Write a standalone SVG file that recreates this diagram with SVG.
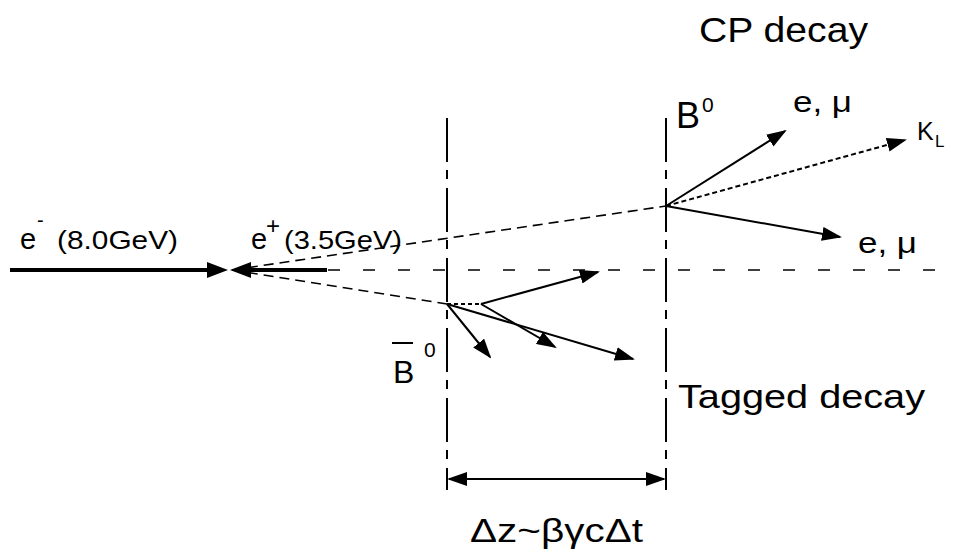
<svg xmlns="http://www.w3.org/2000/svg" width="958" height="557" viewBox="0 0 958 557">
<style>
text{font-family:"Liberation Sans",Arial,sans-serif;fill:#000}
.thin{stroke:#000;stroke-width:2;fill:none}
.arr{marker-end:url(#ah)}
.dot{stroke-dasharray:5 3}
.dash{stroke:#000;stroke-width:1.6;fill:none;stroke-dasharray:10 6}
.vline{stroke:#000;stroke-width:2;fill:none;stroke-dasharray:44 8 9 9}
.beam{stroke:#000;stroke-width:4;fill:none}
</style>
<defs>
<marker id="ah" viewBox="0 0 20 14" refX="18" refY="7" markerWidth="20" markerHeight="14" markerUnits="userSpaceOnUse" orient="auto-start-reverse">
<path d="M0,0 L20,7 L0,14 z" fill="#000"/>
</marker>
</defs>
<rect width="958" height="557" fill="#fff"/>
<g id="connectors">
<line class="vline" x1="447" y1="118" x2="447" y2="490"/>
<line class="vline" x1="666" y1="118" x2="666" y2="490"/>
<line class="beam" x1="10" y1="270" x2="210" y2="270"/>
<polygon points="207,262 228,270 207,278" fill="#000"/>
<line class="beam" x1="248" y1="270" x2="327" y2="270"/>
<polygon points="251,262 230,270 251,278" fill="#000"/>
<line x1="328" y1="270" x2="958" y2="270" stroke="#000" stroke-width="1.6" stroke-dasharray="12 23"/>
<line class="dash" x1="232" y1="270" x2="666" y2="206"/>
<line class="dash" x1="232" y1="270" x2="447" y2="304"/>
<line class="thin arr" x1="666" y1="206" x2="785" y2="131"/>
<line class="thin arr dot" x1="666" y1="206" x2="905" y2="140"/>
<line class="thin arr" x1="666" y1="206" x2="840" y2="237"/>
<line class="thin" stroke-dasharray="4 3" x1="447" y1="304" x2="481" y2="304"/>
<line class="thin arr" x1="481" y1="304" x2="598" y2="272"/>
<line class="thin arr" x1="481" y1="304" x2="555" y2="347"/>
<line class="thin arr" x1="447" y1="304" x2="490" y2="357"/>
<line class="thin arr" x1="447" y1="304" x2="633" y2="359"/>
<line class="thin" marker-start="url(#ah)" marker-end="url(#ah)" x1="449" y1="479" x2="664" y2="479"/>
</g>
<g id="label-eminus">
<text x="20" y="249" font-size="29">e</text>
<text x="37" y="227" font-size="20">-</text>
<text x="57" y="249" font-size="25" textLength="121" lengthAdjust="spacingAndGlyphs">(8.0GeV)</text>
</g>
<g id="label-eplus">
<text x="251" y="249" font-size="29">e</text>
<text x="266" y="234" font-size="24">+</text>
<text x="284" y="249" font-size="25" textLength="118" lengthAdjust="spacingAndGlyphs">(3.5GeV)</text>
</g>
<g id="label-cp">
<text x="699" y="42" font-size="35" textLength="169" lengthAdjust="spacingAndGlyphs">CP decay</text>
</g>
<g id="label-b0">
<text x="676" y="128" font-size="36">B</text>
<text x="702" y="112" font-size="21">0</text>
</g>
<g id="label-emu1">
<text x="793" y="112" font-size="30" textLength="59" lengthAdjust="spacingAndGlyphs">e, μ</text>
</g>
<g id="label-kl">
<text x="917" y="140" font-size="25">K</text>
<text x="935" y="147" font-size="17">L</text>
</g>
<g id="label-emu2">
<text x="858" y="253" font-size="30" textLength="59" lengthAdjust="spacingAndGlyphs">e, μ</text>
</g>
<g id="label-bbar">
<line x1="392" y1="343" x2="413" y2="343" stroke="#000" stroke-width="2"/>
<text x="393" y="383" font-size="32">B</text>
<text x="424" y="357" font-size="21">0</text>
</g>
<g id="label-tagged">
<text x="678" y="408" font-size="34" textLength="247" lengthAdjust="spacingAndGlyphs">Tagged decay</text>
</g>
<g id="label-dz">
<text x="470" y="542" font-size="33" textLength="173" lengthAdjust="spacingAndGlyphs">Δz~βγcΔt</text>
</g>
</svg>
